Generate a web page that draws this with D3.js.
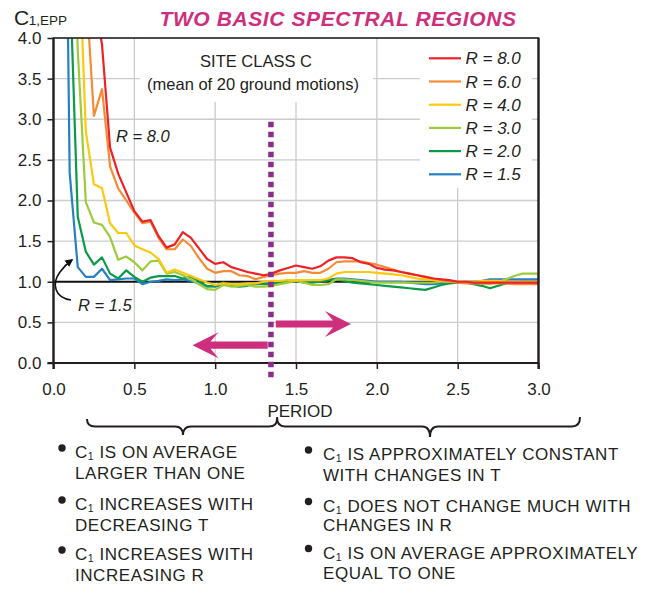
<!DOCTYPE html>
<html><head><meta charset="utf-8">
<script src="https://cdn.jsdelivr.net/npm/d3@7"></script>
<style>
body{margin:0;background:#fff;}
text{font-family:"Liberation Sans",Arial,Helvetica,sans-serif;fill:#231F20;}
</style>
</head><body>
<svg id="c" width="658" height="590"></svg>
<script>
// ---- data ----
const periods = [0.05,0.10,0.15,0.20,0.25,0.30,0.35,0.40,0.45,0.50,
                 0.55,0.60,0.65,0.70,0.75,0.80,0.85,0.90,0.95,1.00,
                 1.05,1.10,1.15,1.20,1.25,1.30,1.35,1.40,1.45,1.50,
                 1.55,1.60,1.65,1.70,1.75,1.80,1.85,1.90,1.95,2.00,
                 2.05,2.10,2.15,2.20,2.25,2.30,2.35,2.40,2.45,2.50,
                 2.55,2.60,2.65,2.70,2.75,2.80,2.85,2.90,2.95,3.00];
const c1_R80 = [9.0,8.0,7.0,6.0,4.5,3.92,2.65,2.33,2.10,1.87,
                1.74,1.76,1.56,1.42,1.46,1.61,1.54,1.41,1.28,1.22,
                1.24,1.18,1.15,1.12,1.10,1.08,1.10,1.14,1.17,1.20,
                1.18,1.16,1.19,1.26,1.30,1.30,1.29,1.24,1.22,1.17,
                1.15,1.14,1.12,1.10,1.08,1.06,1.04,1.03,1.02,1.00,
                1.00,0.99,0.99,0.99,0.99,0.99,0.99,0.99,0.99,0.99];
const c1_R60 = [9.0,8.0,6.5,4.65,3.04,3.37,2.42,2.15,2.00,1.85,
                1.72,1.74,1.54,1.40,1.40,1.52,1.44,1.29,1.16,1.11,
                1.13,1.13,1.08,1.07,1.03,1.06,1.08,1.10,1.11,1.11,
                1.13,1.11,1.11,1.16,1.24,1.25,1.25,1.25,1.23,1.21,
                1.18,1.15,1.12,1.10,1.08,1.06,1.04,1.02,1.00,0.99,
                0.98,0.98,0.98,0.98,0.98,0.98,0.97,0.97,0.97,0.97];
const c1_R40 = [9.0,8.0,5.5,2.85,2.20,2.15,1.72,1.60,1.60,1.45,
                1.40,1.36,1.28,1.11,1.15,1.11,1.07,1.03,0.99,0.96,
                0.98,0.97,0.97,0.98,0.98,1.00,1.01,1.01,1.02,1.02,
                1.02,1.02,1.02,1.04,1.10,1.12,1.12,1.12,1.12,1.11,
                1.10,1.09,1.08,1.06,1.04,1.03,1.02,1.01,1.00,1.00,
                1.00,1.00,1.01,1.01,1.01,1.00,1.00,1.00,1.00,1.00];
const c1_R30 = [9.0,7.0,3.85,1.98,1.73,1.70,1.55,1.27,1.31,1.24,
                1.14,1.25,1.26,1.10,1.12,1.08,1.03,0.97,0.91,0.90,
                0.96,0.94,0.95,0.96,0.94,0.94,0.95,0.97,0.99,1.01,
                0.99,0.96,0.96,0.97,1.03,1.03,1.02,1.01,1.00,0.99,
                0.99,0.99,0.99,0.99,0.99,0.99,0.99,1.00,1.00,1.00,
                1.00,0.99,0.98,0.97,1.00,1.03,1.07,1.10,1.10,1.10];
const c1_R20 = [9.0,4.85,1.80,1.37,1.21,1.30,1.10,1.04,1.14,1.06,
                1.00,1.05,1.07,1.07,1.07,1.04,1.06,1.01,0.94,0.95,
                0.99,0.95,0.94,0.95,0.98,0.97,0.97,0.99,1.00,1.01,
                0.99,0.99,1.00,1.02,1.03,1.01,0.99,0.98,0.97,0.96,
                0.95,0.94,0.93,0.92,0.91,0.90,0.93,0.96,0.98,0.99,
                0.99,0.97,0.95,0.92,0.95,0.98,0.99,1.00,1.00,1.00];
const c1_R15 = [10.6,2.34,1.18,1.06,1.06,1.16,1.02,1.03,1.04,1.04,
                0.97,1.00,1.01,1.03,1.02,1.03,1.01,0.98,0.95,0.94,
                0.96,0.97,0.95,0.97,0.97,0.98,0.99,1.00,1.01,1.01,
                1.01,1.01,1.01,1.02,1.04,1.04,1.03,1.02,1.01,1.00,
                1.00,1.00,1.00,0.99,0.98,0.97,0.97,0.98,0.99,0.99,
                1.00,1.00,1.01,1.03,1.03,1.03,1.03,1.03,1.03,1.03];
const seriesNames  = ["R = 8.0","R = 6.0","R = 4.0","R = 3.0","R = 2.0","R = 1.5"];
const seriesColors = ["#EC2227","#F68B33","#FDC90F","#9DCB3B","#0B9B48","#2680C3"];
const seriesValues = [c1_R80,c1_R60,c1_R40,c1_R30,c1_R20,c1_R15];
const xTicks = [0.0,0.5,1.0,1.5,2.0,2.5,3.0];
const yTicks = [0.0,0.5,1.0,1.5,2.0,2.5,3.0,3.5,4.0];
const leftNotes  = [["C","1"," IS ON AVERAGE"],["","","LARGER THAN ONE"],
                    ["C","1"," INCREASES WITH"],["","","DECREASING T"],
                    ["C","1"," INCREASES WITH"],["","","INCREASING R"]];
const rightNotes = [["C","1"," IS APPROXIMATELY CONSTANT"],["","","WITH CHANGES IN T"],
                    ["C","1"," DOES NOT CHANGE MUCH WITH"],["","","CHANGES IN R"],
                    ["C","1"," IS ON AVERAGE APPROXIMATELY"],["","","EQUAL TO ONE"]];

// ---- layout ----
const svg = d3.select("#c");
const L = 53.5, R = 538.5, T = 38, B = 363;
const x = d3.scaleLinear().domain([0,3]).range([L,R]);
const y = d3.scaleLinear().domain([0,4]).range([B,T]);
const magenta = "#CE2F7D", purple = "#8C2D8E", ink = "#231F20";

svg.append("defs").append("clipPath").attr("id","plot")
  .append("rect").attr("x",L).attr("y",T).attr("width",R-L).attr("height",B-T);

// grid
const grid = svg.append("g").attr("stroke","#CBCCD0").attr("stroke-width",1.3);
xTicks.filter(d=>d>0&&d<3).forEach(d=>grid.append("line")
  .attr("x1",x(d)).attr("x2",x(d)).attr("y1",T).attr("y2",B));
yTicks.filter(d=>d>0&&d<4&&d!==1).forEach(d=>grid.append("line")
  .attr("y1",y(d)).attr("y2",y(d)).attr("x1",L).attr("x2",R));

// white boxes covering grid (text box + legend)
svg.append("rect").attr("x",140).attr("y",T+1).attr("width",233).attr("height",63).attr("fill","#fff");
svg.append("rect").attr("x",420).attr("y",T+1).attr("width",112).attr("height",149).attr("fill","#fff");

// reference line at 1.0
svg.append("line").attr("x1",L).attr("x2",R).attr("y1",y(1)).attr("y2",y(1))
  .attr("stroke","#111").attr("stroke-width",2);

// curves
const line = d3.line().x((d,i)=>x(periods[i])).y(d=>y(d));
const cg = svg.append("g").attr("clip-path","url(#plot)");
for (let s = seriesValues.length-1; s >= 0; s--) {
  cg.append("path").datum(seriesValues[s]).attr("d",line)
    .attr("fill","none").attr("stroke",seriesColors[s]).attr("stroke-width",2.2)
    .attr("stroke-linejoin","round");
}

// axes
const ax = svg.append("g").attr("transform",`translate(0,${B})`)
  .call(d3.axisBottom(x).tickValues(xTicks).tickFormat(d3.format(".1f")).tickSize(6).tickPadding(14));
const ay = svg.append("g").attr("transform",`translate(${L},0)`)
  .call(d3.axisLeft(y).tickValues(yTicks).tickFormat(d3.format(".1f")).tickSize(6).tickPadding(6));
[ax,ay].forEach(a=>{
  a.select(".domain").remove();
  a.selectAll(".tick line").attr("stroke",ink).attr("stroke-width",1.5);
  a.selectAll(".tick text").attr("font-size",17).attr("fill",ink)
    .style("font-family",'"Liberation Sans",Arial,sans-serif');
});

// frame
svg.append("rect").attr("x",L).attr("y",T).attr("width",R-L).attr("height",B-T)
  .attr("fill","none").attr("stroke",ink).attr("stroke-width",1.6);
svg.append("line").attr("x1",L).attr("x2",L).attr("y1",T).attr("y2",B+6).attr("stroke",ink).attr("stroke-width",2.2);
svg.append("line").attr("x1",L-6).attr("x2",R).attr("y1",B).attr("y2",B).attr("stroke",ink).attr("stroke-width",2.2);
svg.append("line").attr("x1",R).attr("x2",R).attr("y1",T).attr("y2",B+6).attr("stroke",ink).attr("stroke-width",2.2);

// axis titles
const yl = svg.append("text").attr("x",14).attr("y",25);
yl.append("tspan").attr("font-size",21).text("C");
yl.append("tspan").attr("font-size",13.5).attr("dx",-0.5).text("1,EPP");
svg.append("text").attr("x",300).attr("y",416.5).attr("text-anchor","middle")
  .attr("font-size",17).text("PERIOD");

// title
svg.append("text").attr("x",338).attr("y",26).attr("text-anchor","middle")
  .attr("font-size",21).attr("font-weight","bold").attr("font-style","italic")
  .attr("letter-spacing",0.6).style("fill",magenta).text("TWO BASIC SPECTRAL REGIONS");

// site class box text
svg.append("text").attr("x",256).attr("y",67).attr("text-anchor","middle").attr("font-size",16.5).text("SITE CLASS C");
svg.append("text").attr("x",253).attr("y",90).attr("text-anchor","middle").attr("font-size",16.5).text("(mean of 20 ground motions)");

// legend
const lg = svg.append("g");
seriesNames.forEach((n,i)=>{
  const yy = 58.3 + i*23.2;
  lg.append("line").attr("x1",429).attr("x2",461).attr("y1",yy).attr("y2",yy)
    .attr("stroke",seriesColors[i]).attr("stroke-width",2.2);
  lg.append("text").attr("x",465.5).attr("y",yy+6).attr("font-size",17)
    .attr("font-style","italic").text(n);
});

// annotations R = 8.0 and R = 1.5
svg.append("text").attr("x",116).attr("y",141.5).attr("font-size",16.5).attr("font-style","italic").text("R = 8.0");
svg.append("text").attr("x",78).attr("y",310.5).attr("font-size",16.5).attr("font-style","italic").text("R = 1.5");
const defs = svg.select("defs");
defs.append("marker").attr("id","ah").attr("viewBox","0 0 10 10").attr("refX",8).attr("refY",5)
  .attr("markerWidth",5).attr("markerHeight",5).attr("orient","auto")
  .append("path").attr("d","M0,0 L10,5 L0,10 Z").attr("fill","#111");
svg.append("path").attr("d","M71,300 C55,298 51,284 60,272 Q65,265 72,260")
  .attr("fill","none").attr("stroke","#111").attr("stroke-width",1.6).attr("marker-end","url(#ah)");

// dotted boundary
svg.append("line").attr("x1",x(1.345)).attr("x2",x(1.345)).attr("y1",y(2.97)).attr("y2",B+15)
  .attr("stroke",purple).attr("stroke-width",5.5).attr("stroke-dasharray","5.5,4.5");

// magenta arrows
function arrow(x0, tx, ty){
  const dir = tx < x0 ? 1 : -1, hl = 26, hh = 13, sh = 3.6, inset = 8;
  const pts = [[tx,ty],[tx+dir*hl,ty-hh],[tx+dir*(hl-inset),ty-sh],[x0,ty-sh],
               [x0,ty+sh],[tx+dir*(hl-inset),ty+sh],[tx+dir*hl,ty+hh]];
  svg.append("path").attr("d","M"+pts.map(p=>p.join(",")).join("L")+"Z").attr("fill",magenta);
}
arrow(x(1.325), x(0.86), y(0.22));
arrow(x(1.375), x(1.84), y(0.48));

// braces
function brace(x1, x2, xm, y0, y1, y2){
  const r = 8;
  return `M${x1},${y0} Q${x1},${y1} ${x1+r},${y1} L${xm-r},${y1} Q${xm},${y1} ${xm},${y2}` +
         ` M${xm},${y2} Q${xm},${y1} ${xm+r},${y1} L${x2-r},${y1} Q${x2},${y1} ${x2},${y0}`;
}
svg.append("path").attr("d",brace(87,277,183,419,426.5,435)).attr("fill","none").attr("stroke",ink).attr("stroke-width",2);
svg.append("path").attr("d",brace(277,580,430,417,426.5,437)).attr("fill","none").attr("stroke",ink).attr("stroke-width",2);

// notes
function notes(list, bx, tx, baselines){
  list.forEach((n,i)=>{
    const by = baselines[i];
    if (n[0]) svg.append("circle").attr("cx",bx).attr("cy",by-10).attr("r",3.7).attr("fill",ink);
    const t = svg.append("text").attr("x",tx).attr("y",by).attr("font-size",17).attr("letter-spacing",0.55);
    if (n[0]) {
      t.append("tspan").text(n[0]);
      t.append("tspan").attr("font-size",10.5).attr("dy",2).text(n[1]);
      t.append("tspan").attr("dy",-2).text(n[2]);
    } else t.text(n[2]);
  });
}
notes(leftNotes, 62, 75, [458,478.5,510,530.5,560,580.5]);
notes(rightNotes, 308.5, 323, [460,480.5,511.5,531,558.5,578.5]);
</script>
</body></html>
